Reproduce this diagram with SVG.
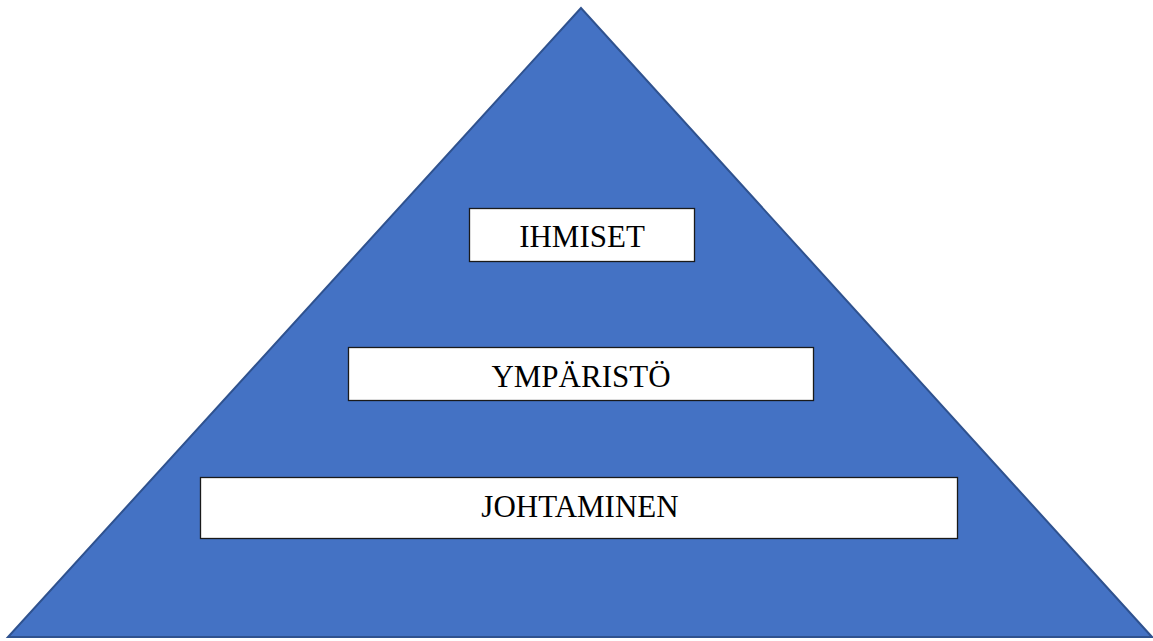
<svg xmlns="http://www.w3.org/2000/svg" width="1153" height="641" viewBox="0 0 1153 641">
<style>
.box{fill:#ffffff;stroke:#1a1a1a;stroke-width:1.3}
.lbl{font-family:"Liberation Serif","Times New Roman",serif;font-size:31px;fill:#000;text-anchor:middle}
</style>
<rect width="1153" height="641" fill="#ffffff"/>
<g id="pyramid">
<polygon points="581,8 8,637 1152,637" fill="#4472C4" stroke="#2F528F" stroke-width="2"/>
</g>
<g id="connectors"></g>
<g id="ihmiset">
<rect class="box" x="469.5" y="208.5" width="225" height="53"/>
<text class="lbl" x="582" y="247">IHMISET</text>
</g>
<g id="ymparisto">
<rect class="box" x="348.5" y="347.5" width="465" height="53"/>
<text class="lbl" x="581" y="387">YMPÄRISTÖ</text>
</g>
<g id="johtaminen">
<rect class="box" x="200.5" y="477.5" width="757" height="61"/>
<text class="lbl" x="580" y="517">JOHTAMINEN</text>
</g>
</svg>
